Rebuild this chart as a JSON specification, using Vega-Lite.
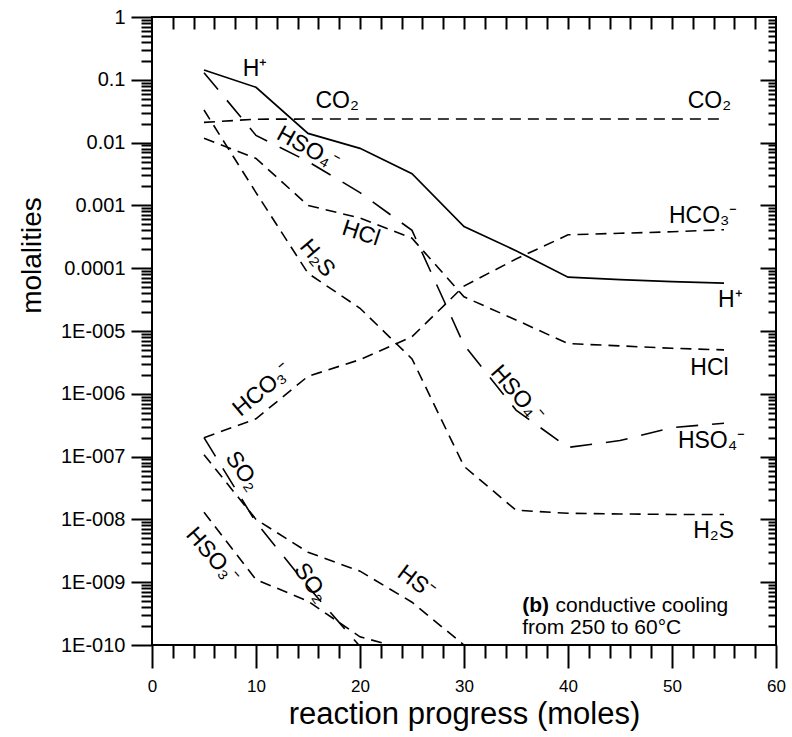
{
  "$schema": "https://vega.github.io/schema/vega-lite/v6.json",
  "width": 624,
  "height": 628,
  "autosize": {"type": "none"},
  "padding": {"left": 152, "top": 17, "right": 16, "bottom": 92},
  "background": "white",
  "config": {
    "view": {"stroke": "black", "strokeWidth": 2},
    "font": "Liberation Sans",
    "axis": {
      "grid": false,
      "domain": false,
      "tickColor": "black",
      "tickWidth": 2,
      "labelColor": "black",
      "titleColor": "black",
      "labelFont": "Liberation Sans",
      "titleFont": "Liberation Sans",
      "titleFontWeight": "normal",
      "labelFlush": false,
      "labelOverlap": false
    },
    "text": {"font": "Liberation Sans", "fontSize": 23, "color": "black"}
  },
  "datasets": {
    "molal": [
      {"species": "H+", "x": 5, "m": 0.143},
      {"species": "H+", "x": 10, "m": 0.076},
      {"species": "H+", "x": 15, "m": 0.014},
      {"species": "H+", "x": 20, "m": 0.0081},
      {"species": "H+", "x": 25, "m": 0.0032},
      {"species": "H+", "x": 30, "m": 0.00046},
      {"species": "H+", "x": 35, "m": 0.00019},
      {"species": "H+", "x": 40, "m": 0.000072},
      {"species": "H+", "x": 45, "m": 0.000066},
      {"species": "H+", "x": 50, "m": 0.000061},
      {"species": "H+", "x": 55, "m": 0.000058},

      {"species": "CO2", "x": 5, "m": 0.021},
      {"species": "CO2", "x": 10, "m": 0.0236},
      {"species": "CO2", "x": 15, "m": 0.0237},
      {"species": "CO2", "x": 20, "m": 0.0237},
      {"species": "CO2", "x": 25, "m": 0.0237},
      {"species": "CO2", "x": 30, "m": 0.0237},
      {"species": "CO2", "x": 35, "m": 0.0237},
      {"species": "CO2", "x": 40, "m": 0.0237},
      {"species": "CO2", "x": 45, "m": 0.0237},
      {"species": "CO2", "x": 50, "m": 0.0237},
      {"species": "CO2", "x": 55, "m": 0.0237},

      {"species": "HSO4-", "x": 5, "m": 0.13},
      {"species": "HSO4-", "x": 10, "m": 0.013},
      {"species": "HSO4-", "x": 15, "m": 0.005},
      {"species": "HSO4-", "x": 20, "m": 0.0016},
      {"species": "HSO4-", "x": 25, "m": 0.0004},
      {"species": "HSO4-", "x": 30, "m": 0.000006},
      {"species": "HSO4-", "x": 35, "m": 5.5e-7},
      {"species": "HSO4-", "x": 40, "m": 1.4e-7},
      {"species": "HSO4-", "x": 45, "m": 1.8e-7},
      {"species": "HSO4-", "x": 50, "m": 2.9e-7},
      {"species": "HSO4-", "x": 55, "m": 3.4e-7},

      {"species": "HCl", "x": 5, "m": 0.0117},
      {"species": "HCl", "x": 10, "m": 0.0056},
      {"species": "HCl", "x": 15, "m": 0.001},
      {"species": "HCl", "x": 20, "m": 0.00063},
      {"species": "HCl", "x": 25, "m": 0.0003},
      {"species": "HCl", "x": 30, "m": 0.000035},
      {"species": "HCl", "x": 35, "m": 0.000015},
      {"species": "HCl", "x": 40, "m": 6.3e-6},
      {"species": "HCl", "x": 45, "m": 5.8e-6},
      {"species": "HCl", "x": 50, "m": 5.3e-6},
      {"species": "HCl", "x": 55, "m": 5.0e-6},

      {"species": "H2S", "x": 5, "m": 0.033},
      {"species": "H2S", "x": 10, "m": 0.0016},
      {"species": "H2S", "x": 15, "m": 0.000083},
      {"species": "H2S", "x": 20, "m": 0.000023},
      {"species": "H2S", "x": 25, "m": 3.6e-6},
      {"species": "H2S", "x": 30, "m": 7e-8},
      {"species": "H2S", "x": 35, "m": 1.4e-8},
      {"species": "H2S", "x": 40, "m": 1.25e-8},
      {"species": "H2S", "x": 45, "m": 1.22e-8},
      {"species": "H2S", "x": 50, "m": 1.2e-8},
      {"species": "H2S", "x": 55, "m": 1.2e-8},

      {"species": "HCO3-", "x": 5, "m": 2e-7},
      {"species": "HCO3-", "x": 10, "m": 4e-7},
      {"species": "HCO3-", "x": 15, "m": 1.9e-6},
      {"species": "HCO3-", "x": 20, "m": 3.5e-6},
      {"species": "HCO3-", "x": 25, "m": 8.1e-6},
      {"species": "HCO3-", "x": 30, "m": 0.000052},
      {"species": "HCO3-", "x": 35, "m": 0.00014},
      {"species": "HCO3-", "x": 40, "m": 0.00034},
      {"species": "HCO3-", "x": 45, "m": 0.00036},
      {"species": "HCO3-", "x": 50, "m": 0.00038},
      {"species": "HCO3-", "x": 55, "m": 0.00041},

      {"species": "SO2", "x": 5, "m": 2e-7},
      {"species": "SO2", "x": 10, "m": 9e-9},
      {"species": "SO2", "x": 15, "m": 8.5e-10},
      {"species": "SO2", "x": 20, "m": 9.5e-11},
      {"species": "SO2", "x": 25, "m": 1e-11},

      {"species": "HS-", "x": 5, "m": 1.07e-7},
      {"species": "HS-", "x": 10, "m": 1e-8},
      {"species": "HS-", "x": 15, "m": 3e-9},
      {"species": "HS-", "x": 20, "m": 1.5e-9},
      {"species": "HS-", "x": 25, "m": 4.8e-10},
      {"species": "HS-", "x": 30, "m": 1e-10},
      {"species": "HS-", "x": 35, "m": 2e-11},

      {"species": "HSO3-", "x": 5, "m": 1.3e-8},
      {"species": "HSO3-", "x": 10, "m": 1.1e-9},
      {"species": "HSO3-", "x": 15, "m": 5e-10},
      {"species": "HSO3-", "x": 20, "m": 1.35e-10},
      {"species": "HSO3-", "x": 25, "m": 8e-11}
    ]
  },
  "layer": [
    {
      "description": "solid H+ curve; carries the labelled bottom and left axes",
      "data": {"name": "molal"},
      "transform": [{"filter": "datum.species === 'H+'"}],
      "mark": {"type": "line", "color": "black", "strokeWidth": 1.7, "clip": true},
      "encoding": {
        "x": {
          "field": "x", "type": "quantitative",
          "scale": {"domain": [0, 60], "nice": false, "zero": false},
          "axis": {
            "orient": "bottom",
            "values": [0, 10, 20, 30, 40, 50, 60],
            "tickSize": 23,
            "labelFontSize": 17,
            "labelPadding": 10,
            "title": "reaction progress (moles)",
            "titleFontSize": 31,
            "titlePadding": 5
          }
        },
        "y": {
          "field": "m", "type": "quantitative",
          "scale": {"type": "log", "domain": [1e-10, 1], "nice": false},
          "axis": {
            "orient": "left",
            "values": [1e-10, 1e-9, 1e-8, 1e-7, 1e-6, 1e-5, 0.0001, 0.001, 0.01, 0.1, 1],
            "tickSize": 21,
            "labelFontSize": 20,
            "labelPadding": 6,
            "labelExpr": "datum.value > 0.5 ? '1' : datum.value > 0.05 ? '0.1' : datum.value > 0.005 ? '0.01' : datum.value > 0.0005 ? '0.001' : datum.value > 0.00005 ? '0.0001' : '1E-0' + (datum.value < 5e-10 ? '10' : '0' + round(-log(datum.value) / LN10))",
            "title": "molalities",
            "titleFontSize": 28,
            "titlePadding": 14,
            "titleY": 238
          }
        },
        "detail": {"field": "species"}
      }
    },
    {
      "description": "short-dashed curves; carries the minor bottom and left ticks",
      "data": {"name": "molal"},
      "transform": [{"filter": "indexof(['CO2', 'HCl', 'H2S', 'HCO3-', 'HS-', 'HSO3-'], datum.species) >= 0"}],
      "mark": {"type": "line", "color": "black", "strokeWidth": 1.6, "strokeDash": [11, 7], "clip": true},
      "encoding": {
        "x": {
          "field": "x", "type": "quantitative",
          "scale": {"domain": [0, 60], "nice": false, "zero": false},
          "axis": {
            "orient": "bottom",
            "values": [2, 4, 6, 8, 12, 14, 16, 18, 22, 24, 26, 28, 32, 34, 36, 38, 42, 44, 46, 48, 52, 54, 56, 58],
            "tickSize": 13,
            "labels": false,
            "title": null
          }
        },
        "y": {
          "field": "m", "type": "quantitative",
          "scale": {"type": "log", "domain": [1e-10, 1], "nice": false},
          "axis": {
            "orient": "left",
            "values": [2e-10, 3e-10, 4e-10, 5e-10, 6e-10, 7e-10, 8e-10, 9e-10,
                       2e-9, 3e-9, 4e-9, 5e-9, 6e-9, 7e-9, 8e-9, 9e-9,
                       2e-8, 3e-8, 4e-8, 5e-8, 6e-8, 7e-8, 8e-8, 9e-8,
                       2e-7, 3e-7, 4e-7, 5e-7, 6e-7, 7e-7, 8e-7, 9e-7,
                       2e-6, 3e-6, 4e-6, 5e-6, 6e-6, 7e-6, 8e-6, 9e-6,
                       2e-5, 3e-5, 4e-5, 5e-5, 6e-5, 7e-5, 8e-5, 9e-5,
                       0.0002, 0.0003, 0.0004, 0.0005, 0.0006, 0.0007, 0.0008, 0.0009,
                       0.002, 0.003, 0.004, 0.005, 0.006, 0.007, 0.008, 0.009,
                       0.02, 0.03, 0.04, 0.05, 0.06, 0.07, 0.08, 0.09,
                       0.2, 0.3, 0.4, 0.5, 0.6, 0.7, 0.8, 0.9],
            "tickSize": 11,
            "labels": false,
            "title": null
          }
        },
        "detail": {"field": "species"}
      }
    },
    {
      "description": "long-dashed curves; carries the inward top and right ticks",
      "data": {"name": "molal"},
      "transform": [{"filter": "datum.species === 'HSO4-' || datum.species === 'SO2'"}],
      "mark": {"type": "line", "color": "black", "strokeWidth": 1.6, "strokeDash": [22, 14], "clip": true},
      "encoding": {
        "x": {
          "field": "x", "type": "quantitative",
          "scale": {"domain": [0, 60], "nice": false, "zero": false},
          "axis": {
            "orient": "top",
            "values": [2, 4, 6, 8, 10, 12, 14, 16, 18, 20, 22, 24, 26, 28, 30, 32, 34, 36, 38, 40, 42, 44, 46, 48, 50, 52, 54, 56, 58],
            "tickSize": -12,
            "labels": false,
            "title": null
          }
        },
        "y": {
          "field": "m", "type": "quantitative",
          "scale": {"type": "log", "domain": [1e-10, 1], "nice": false},
          "axis": {
            "orient": "right",
            "values": [1e-9, 1e-8, 1e-7, 1e-6, 1e-5, 0.0001, 0.001, 0.01, 0.1],
            "tickSize": -16,
            "labels": false,
            "title": null
          }
        },
        "detail": {"field": "species"}
      }
    },
    {
      "description": "bold panel tag; carries the minor right ticks",
      "data": {"values": [{"t": "(b)", "x": 35.6, "m": 3.4e-10}]},
      "mark": {"type": "text", "align": "left", "baseline": "alphabetic", "fontSize": 21, "fontWeight": "bold"},
      "encoding": {
        "text": {"field": "t"},
        "x": {"field": "x", "type": "quantitative", "scale": {"domain": [0, 60], "nice": false, "zero": false}, "axis": null},
        "y": {
          "field": "m", "type": "quantitative",
          "scale": {"type": "log", "domain": [1e-10, 1], "nice": false},
          "axis": {
            "orient": "right",
            "values": [2e-10, 3e-10, 4e-10, 5e-10, 6e-10, 7e-10, 8e-10, 9e-10,
                       2e-9, 3e-9, 4e-9, 5e-9, 6e-9, 7e-9, 8e-9, 9e-9,
                       2e-8, 3e-8, 4e-8, 5e-8, 6e-8, 7e-8, 8e-8, 9e-8,
                       2e-7, 3e-7, 4e-7, 5e-7, 6e-7, 7e-7, 8e-7, 9e-7,
                       2e-6, 3e-6, 4e-6, 5e-6, 6e-6, 7e-6, 8e-6, 9e-6,
                       2e-5, 3e-5, 4e-5, 5e-5, 6e-5, 7e-5, 8e-5, 9e-5,
                       0.0002, 0.0003, 0.0004, 0.0005, 0.0006, 0.0007, 0.0008, 0.0009,
                       0.002, 0.003, 0.004, 0.005, 0.006, 0.007, 0.008, 0.009,
                       0.02, 0.03, 0.04, 0.05, 0.06, 0.07, 0.08, 0.09,
                       0.2, 0.3, 0.4, 0.5, 0.6, 0.7, 0.8, 0.9],
            "tickSize": -8,
            "labels": false,
            "title": null
          }
        }
      }
    },
    {
      "description": "rest of the panel caption",
      "data": {"values": [
        {"t": "conductive cooling", "x": 38.8, "m": 3.4e-10},
        {"t": "from 250 to 60°C", "x": 35.6, "m": 1.5e-10}
      ]},
      "mark": {"type": "text", "align": "left", "baseline": "alphabetic", "fontSize": 21},
      "encoding": {
        "text": {"field": "t"},
        "x": {"field": "x", "type": "quantitative", "scale": {"domain": [0, 60], "nice": false, "zero": false}, "axis": null},
        "y": {"field": "m", "type": "quantitative", "scale": {"type": "log", "domain": [1e-10, 1], "nice": false}, "axis": null}
      }
    },
    {
      "description": "horizontal species labels",
      "data": {"values": [
        {"t": "H⁺", "x": 9.9, "m": 0.148},
        {"t": "CO₂", "x": 17.8, "m": 0.046},
        {"t": "CO₂", "x": 53.6, "m": 0.046},
        {"t": "HCO₃⁻", "x": 53.0, "m": 0.00069},
        {"t": "H⁺", "x": 55.6, "m": 0.000031},
        {"t": "HCl", "x": 53.6, "m": 2.6e-6},
        {"t": "HSO₄⁻", "x": 53.8, "m": 1.8e-7},
        {"t": "H₂S", "x": 54.0, "m": 6.5e-9}
      ]},
      "mark": {"type": "text", "align": "center", "baseline": "middle"},
      "encoding": {
        "text": {"field": "t"},
        "x": {"field": "x", "type": "quantitative", "scale": {"domain": [0, 60], "nice": false, "zero": false}, "axis": null},
        "y": {"field": "m", "type": "quantitative", "scale": {"type": "log", "domain": [1e-10, 1], "nice": false}, "axis": null}
      }
    },
    {
      "data": {"values": [{"t": "HSO₄⁻", "x": 15.0, "m": 0.0081}]},
      "mark": {"type": "text", "align": "center", "baseline": "middle", "angle": 29},
      "encoding": {
        "text": {"field": "t"},
        "x": {"field": "x", "type": "quantitative", "scale": {"domain": [0, 60], "nice": false, "zero": false}, "axis": null},
        "y": {"field": "m", "type": "quantitative", "scale": {"type": "log", "domain": [1e-10, 1], "nice": false}, "axis": null}
      }
    },
    {
      "data": {"values": [{"t": "HCl", "x": 20.1, "m": 0.00036}]},
      "mark": {"type": "text", "align": "center", "baseline": "middle", "angle": 18},
      "encoding": {
        "text": {"field": "t"},
        "x": {"field": "x", "type": "quantitative", "scale": {"domain": [0, 60], "nice": false, "zero": false}, "axis": null},
        "y": {"field": "m", "type": "quantitative", "scale": {"type": "log", "domain": [1e-10, 1], "nice": false}, "axis": null}
      }
    },
    {
      "data": {"values": [{"t": "H₂S", "x": 15.9, "m": 0.000145}]},
      "mark": {"type": "text", "align": "center", "baseline": "middle", "angle": 50},
      "encoding": {
        "text": {"field": "t"},
        "x": {"field": "x", "type": "quantitative", "scale": {"domain": [0, 60], "nice": false, "zero": false}, "axis": null},
        "y": {"field": "m", "type": "quantitative", "scale": {"type": "log", "domain": [1e-10, 1], "nice": false}, "axis": null}
      }
    },
    {
      "data": {"values": [{"t": "HCO₃⁻", "x": 10.6, "m": 1.15e-6}]},
      "mark": {"type": "text", "align": "center", "baseline": "middle", "angle": -40},
      "encoding": {
        "text": {"field": "t"},
        "x": {"field": "x", "type": "quantitative", "scale": {"domain": [0, 60], "nice": false, "zero": false}, "axis": null},
        "y": {"field": "m", "type": "quantitative", "scale": {"type": "log", "domain": [1e-10, 1], "nice": false}, "axis": null}
      }
    },
    {
      "data": {"values": [
        {"t": "SO₂", "x": 8.7, "m": 5.9e-8},
        {"t": "SO₂", "x": 15.3, "m": 9.8e-10}
      ]},
      "mark": {"type": "text", "align": "center", "baseline": "middle", "angle": 55},
      "encoding": {
        "text": {"field": "t"},
        "x": {"field": "x", "type": "quantitative", "scale": {"domain": [0, 60], "nice": false, "zero": false}, "axis": null},
        "y": {"field": "m", "type": "quantitative", "scale": {"type": "log", "domain": [1e-10, 1], "nice": false}, "axis": null}
      }
    },
    {
      "data": {"values": [
        {"t": "HSO₃⁻", "x": 5.8, "m": 2.6e-9},
        {"t": "HSO₄⁻", "x": 35.1, "m": 1.0e-6}
      ]},
      "mark": {"type": "text", "align": "center", "baseline": "middle", "angle": 49},
      "encoding": {
        "text": {"field": "t"},
        "x": {"field": "x", "type": "quantitative", "scale": {"domain": [0, 60], "nice": false, "zero": false}, "axis": null},
        "y": {"field": "m", "type": "quantitative", "scale": {"type": "log", "domain": [1e-10, 1], "nice": false}, "axis": null}
      }
    },
    {
      "data": {"values": [{"t": "HS⁻", "x": 25.4, "m": 1.0e-9}]},
      "mark": {"type": "text", "align": "center", "baseline": "middle", "angle": 37},
      "encoding": {
        "text": {"field": "t"},
        "x": {"field": "x", "type": "quantitative", "scale": {"domain": [0, 60], "nice": false, "zero": false}, "axis": null},
        "y": {"field": "m", "type": "quantitative", "scale": {"type": "log", "domain": [1e-10, 1], "nice": false}, "axis": null}
      }
    }
  ],
  "resolve": {"axis": {"x": "independent", "y": "independent"}}
}
